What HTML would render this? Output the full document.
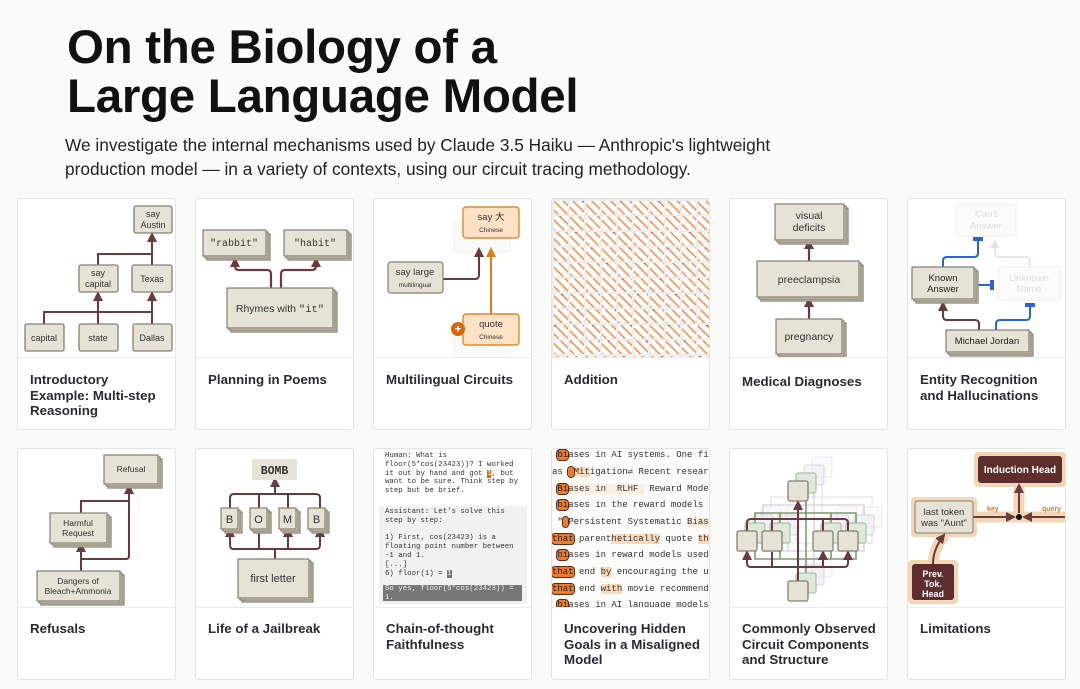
<!DOCTYPE html>
<html><head><meta charset="utf-8">
<style>
*{margin:0;padding:0;box-sizing:border-box}
body{width:1080px;height:689px;background:#fafaf8;position:relative;overflow:hidden;font-family:"Liberation Sans",sans-serif;color:#1a1a1a}
h1{position:absolute;left:67px;top:23px;font-size:47.5px;line-height:49px;font-weight:bold;letter-spacing:-0.3px;color:#111}
.sub{position:absolute;left:65px;top:134px;font-size:17.3px;line-height:23.5px;color:#222;width:780px}
.card{position:absolute;width:159px;height:232px;background:#fff;border:1px solid #e4e4e2;border-radius:3px;overflow:hidden}
.card .img{position:absolute;left:0;top:0;width:159px;height:159px;border-bottom:1px solid #ececea;overflow:hidden}
.card .t{position:absolute;left:12px;top:173px;font-size:13.3px;line-height:15.5px;font-weight:bold;color:#2a2a33;width:160px;white-space:nowrap}
svg{position:absolute;left:0;top:0}
svg text{font-family:"Liberation Sans",sans-serif}
.cot{position:absolute;font-family:"Liberation Mono",monospace;font-size:7.4px;color:#333;white-space:pre;line-height:8.8px}
.bz{position:absolute;left:0;font-family:"Liberation Mono",monospace;font-size:9px;color:#333;white-space:pre;height:15px;line-height:15px;width:159px}
.o{background:#f07a2a;color:#222;border-radius:3px;outline:1px solid #5a2a1a}
.l{background:#fcd9b8}
.vl{background:#fdeee0}
</style></head><body>
<svg width="0" height="0" style="position:absolute">
<defs>
<marker id="a" viewBox="0 0 10 10" refX="8" refY="5" markerWidth="10" markerHeight="10" markerUnits="userSpaceOnUse" orient="auto-start-reverse"><path d="M0,0 L10,5 L0,10 Z" fill="#6a3a3c"/></marker>
<marker id="ao" viewBox="0 0 10 10" refX="8" refY="5" markerWidth="10" markerHeight="10" markerUnits="userSpaceOnUse" orient="auto-start-reverse"><path d="M0,0 L10,5 L0,10 Z" fill="#e07b1a"/></marker>
<marker id="ag" viewBox="0 0 10 10" refX="8" refY="5" markerWidth="9" markerHeight="9" markerUnits="userSpaceOnUse" orient="auto-start-reverse"><path d="M0,0 L10,5 L0,10 Z" fill="#e8e0e0"/></marker>
<marker id="ar" viewBox="0 0 10 10" refX="8" refY="5" markerWidth="10" markerHeight="10" markerUnits="userSpaceOnUse" orient="auto"><path d="M0,0 L10,5 L0,10 Z" fill="#6a3a3c"/></marker>
<marker id="tb" viewBox="0 0 4 10" refX="2" refY="5" markerWidth="4" markerHeight="10" markerUnits="userSpaceOnUse" orient="auto"><rect x="0" y="0" width="4" height="10" fill="#2a62d8"/></marker>
</defs></svg>

<h1>On the Biology of a<br>Large Language Model</h1>
<div class="sub">We investigate the internal mechanisms used by Claude 3.5 Haiku — Anthropic's lightweight production model — in a variety of contexts, using our circuit tracing methodology.</div>

<!-- Row 1 card 1 -->
<div class="card" style="left:17px;top:198px"><div class="img">
<svg width="159" height="159" font-size="9" fill="none">
<g stroke="#6a3a3c" stroke-width="2" fill="none">
<path d="M26,125 V113 H134"/><path d="M80,125 V94" marker-end="url(#a)"/><path d="M134,125 V94" marker-end="url(#a)"/>
<path d="M80,66 V55 H134"/><path d="M134,66 V35" marker-end="url(#a)"/>
</g>
<g fill="#e6e2d6" stroke="#857f70" stroke-width="1.3">
<rect x="116" y="7" width="38" height="27" rx="2"/><rect x="61" y="66" width="39" height="27" rx="2"/><rect x="114" y="66" width="40" height="27" rx="2"/>
<rect x="7" y="125" width="39" height="27" rx="2"/><rect x="61" y="125" width="39" height="27" rx="2"/><rect x="115" y="125" width="39" height="27" rx="2"/>
</g>
<g fill="#333" text-anchor="middle" font-size="9">
<text x="135" y="18">say</text><text x="135" y="29">Austin</text>
<text x="80" y="77">say</text><text x="80" y="88">capital</text><text x="134" y="83">Texas</text>
<text x="26" y="142">capital</text><text x="80" y="142">state</text><text x="134" y="142">Dallas</text>
</g></svg></div><div class="t">Introductory<br>Example: Multi-step<br>Reasoning</div></div>

<!-- card 2 -->
<div class="card" style="left:195px;top:198px"><div class="img">
<svg width="159" height="159">
<g stroke="#6a3a3c" stroke-width="2.2" fill="none">
<path d="M75,90 V75 Q75,71 71,71 H43 Q39,71 39,67 V60" marker-end="url(#a)"/>
<path d="M85,90 V75 Q85,71 89,71 H116 Q120,71 120,67 V60" marker-end="url(#a)"/>
</g>
<g stroke="#857f70" stroke-width="1.2">
<rect x="11" y="35" width="63" height="26" fill="#d9d4c4"/><rect x="9" y="33" width="63" height="26" fill="#dfdbcc"/><rect x="7" y="31" width="63" height="26" fill="#e6e2d6"/>
<rect x="92" y="35" width="63" height="26" fill="#d9d4c4"/><rect x="90" y="33" width="63" height="26" fill="#dfdbcc"/><rect x="88" y="31" width="63" height="26" fill="#e6e2d6"/>
<rect x="35" y="93" width="106" height="40" fill="#d9d4c4"/><rect x="33" y="91" width="106" height="40" fill="#dfdbcc"/><rect x="31" y="89" width="106" height="40" fill="#e6e2d6"/>
</g>
<g fill="#333" text-anchor="middle">
<text x="38" y="47" font-size="10" style="font-family:'Liberation Mono',monospace">"rabbit"</text>
<text x="119" y="47" font-size="10" style="font-family:'Liberation Mono',monospace">"habit"</text>
<text x="84" y="113" font-size="10.5">Rhymes with <tspan style="font-family:'Liberation Mono',monospace">"it"</tspan></text>
</g></svg></div><div class="t">Planning in Poems</div></div>

<!-- card 3 -->
<div class="card" style="left:373px;top:198px"><div class="img">
<svg width="159" height="159">
<rect x="80" y="23" width="56" height="30" rx="3" fill="#fafafa" stroke="#f0f0f0"/>
<rect x="80" y="130" width="56" height="28" rx="3" fill="#fafafa" stroke="#f0f0f0"/>
<path d="M69,80 H101 Q105,80 105,76 V50" stroke="#6a3a3c" stroke-width="2" fill="none" marker-end="url(#a)"/>
<path d="M117,115 V50" stroke="#e07b1a" stroke-width="2" fill="none" marker-end="url(#ao)"/>
<rect x="14" y="63" width="55" height="31" rx="3" fill="#e6e2d6" stroke="#857f70" stroke-width="1.2"/>
<rect x="89" y="8" width="56" height="31" rx="3" fill="#fde2c6" stroke="#e08a2e" stroke-width="1.4"/>
<rect x="89" y="115" width="56" height="31" rx="3" fill="#fde2c6" stroke="#e08a2e" stroke-width="1.4"/>
<circle cx="84" cy="130" r="7" fill="#d9650f"/><text x="84" y="133.5" fill="#fff" font-size="11" font-weight="bold" text-anchor="middle">+</text>
<g fill="#333" text-anchor="middle">
<text x="41" y="76" font-size="9.5">say large</text><text x="41" y="88" font-size="6.5">multilingual</text>
<text x="117" y="21" font-size="9.5" style="font-family:'Liberation Sans','Noto Sans CJK SC',sans-serif">say 大</text><text x="117" y="33" font-size="6.5">Chinese</text>
<text x="117" y="128" font-size="9.5">quote</text><text x="117" y="140" font-size="6.5">Chinese</text>
</g></svg></div><div class="t">Multilingual Circuits</div></div>

<!-- card 4 addition -->
<div class="card" style="left:551px;top:198px"><div class="img">
<svg width="159" height="159">
<rect width="159" height="159" fill="#fdfdfd"/>
<g stroke="#f39a5e" stroke-width="1.7" fill="none">
<path d="M-152,0 l159,159 M-142.5,0 l159,159 M-133,0 l159,159 M-123.5,0 l159,159 M-114,0 l159,159 M-104.5,0 l159,159 M-95,0 l159,159 M-85.5,0 l159,159 M-76,0 l159,159 M-66.5,0 l159,159 M-57,0 l159,159 M-47.5,0 l159,159 M-38,0 l159,159 M-28.5,0 l159,159 M-19,0 l159,159 M-9.5,0 l159,159 M0,0 l159,159 M9.5,0 l159,159 M19,0 l159,159 M28.5,0 l159,159 M38,0 l159,159 M47.5,0 l159,159 M57,0 l159,159 M66.5,0 l159,159 M76,0 l159,159 M85.5,0 l159,159 M95,0 l159,159 M104.5,0 l159,159 M114,0 l159,159 M123.5,0 l159,159 M133,0 l159,159 M142.5,0 l159,159 M152,0 l159,159"/>
</g>
<g stroke="#b8502a" stroke-width="1.7" stroke-dasharray="4 18" fill="none" opacity="0.8">
<path d="M-123.5,0 l159,159 M-85.5,0 l159,159 M-47.5,0 l159,159 M-9.5,0 l159,159 M28.5,0 l159,159 M66.5,0 l159,159 M104.5,0 l159,159 M142.5,0 l159,159"/>
</g>
<defs><pattern id="grid" width="16" height="15.5" patternUnits="userSpaceOnUse"><path d="M0,1 H16 M1,0 V16" stroke="#ededf0" stroke-width="2"/></pattern></defs>
<rect width="159" height="159" fill="url(#grid)"/>
</svg></div><div class="t">Addition</div></div>

<!-- card 5 medical -->
<div class="card" style="left:729px;top:198px"><div class="img">
<svg width="159" height="159">
<g stroke="#6a3a3c" stroke-width="2.2" fill="none"><path d="M79,120 V100" marker-end="url(#a)"/><path d="M79,62 V42" marker-end="url(#a)"/></g>
<g stroke="#857f70" stroke-width="1.2">
<rect x="49" y="9" width="69" height="36" fill="#d9d4c4"/><rect x="47" y="7" width="69" height="36" fill="#dfdbcc"/><rect x="45" y="5" width="69" height="36" fill="#e6e2d6"/>
<rect x="31" y="66" width="102" height="36" fill="#d9d4c4"/><rect x="29" y="64" width="102" height="36" fill="#dfdbcc"/><rect x="27" y="62" width="102" height="36" fill="#e6e2d6"/>
<rect x="50" y="124" width="66" height="35" fill="#d9d4c4"/><rect x="48" y="122" width="66" height="35" fill="#dfdbcc"/><rect x="46" y="120" width="66" height="35" fill="#e6e2d6"/>
</g>
<g fill="#333" text-anchor="middle" font-size="10.5"><text x="79" y="20">visual</text><text x="79" y="32">deficits</text><text x="79" y="84">preeclampsia</text><text x="79" y="141">pregnancy</text></g>
</svg></div><div class="t" style="top:175px">Medical Diagnoses</div></div>

<!-- card 6 entity -->
<div class="card" style="left:907px;top:198px"><div class="img">
<svg width="159" height="159">
<rect x="48" y="5" width="60" height="32" rx="2" fill="#fbfbfb" stroke="#efefef"/>
<rect x="90" y="68" width="63" height="33" rx="2" fill="#fbfbfb" stroke="#efefef"/>
<g fill="#ddd" text-anchor="middle" font-size="9.5"><text x="78" y="18">Can't</text><text x="78" y="30">Answer</text><text x="121" y="82">Unknown</text><text x="121" y="93">Name</text></g>
<path d="M122,68 V62 Q122,58 118,58 H91 Q87,58 87,54 V42" stroke="#ece6e6" stroke-width="2" fill="none" marker-end="url(#ag)"/>
<g stroke="#2a62d8" stroke-width="2" fill="none">
<path d="M35,68 V62 Q35,58 39,58 H66 Q70,58 70,54 V40" marker-end="url(#tb)"/>
<path d="M68,86 H84" marker-end="url(#tb)"/>
<path d="M88,131 V125 Q88,121 92,121 H118 Q122,121 122,117 V106" marker-end="url(#tb)"/>
</g>
<path d="M71,131 V125 Q71,121 67,121 H39 Q35,121 35,117 V104" stroke="#6a3a3c" stroke-width="2" fill="none" marker-end="url(#a)"/>
<g stroke="#857f70" stroke-width="1.2">
<rect x="8" y="72" width="62" height="32" fill="#d9d4c4"/><rect x="6" y="70" width="62" height="32" fill="#dfdbcc"/><rect x="4" y="68" width="62" height="32" fill="#e6e2d6"/>
<rect x="42" y="135" width="83" height="22" fill="#d9d4c4"/><rect x="40" y="133" width="83" height="22" fill="#dfdbcc"/><rect x="38" y="131" width="83" height="22" fill="#e6e2d6"/>
</g>
<g fill="#222" text-anchor="middle" font-size="9.5"><text x="35" y="82">Known</text><text x="35" y="93">Answer</text><text x="79" y="145">Michael Jordan</text></g>
</svg></div><div class="t">Entity Recognition<br>and Hallucinations</div></div>

<!-- Row 2 card 1 refusals -->
<div class="card" style="left:17px;top:448px"><div class="img">
<svg width="159" height="159">
<g stroke="#6a3a3c" stroke-width="2" fill="none">
<path d="M63,122 V95" marker-end="url(#a)"/><path d="M63,110 H108 Q111,110 111,107 V37" marker-end="url(#a)"/><path d="M63,64 V52 H111"/>
</g>
<g stroke="#857f70" stroke-width="1.2">
<rect x="90" y="10" width="54" height="29" fill="#d9d4c4"/><rect x="88" y="8" width="54" height="29" fill="#dfdbcc"/><rect x="86" y="6" width="54" height="29" fill="#e6e2d6"/>
<rect x="36" y="68" width="57" height="30" fill="#d9d4c4"/><rect x="34" y="66" width="57" height="30" fill="#dfdbcc"/><rect x="32" y="64" width="57" height="30" fill="#e6e2d6"/>
<rect x="23" y="126" width="83" height="30" fill="#d9d4c4"/><rect x="21" y="124" width="83" height="30" fill="#dfdbcc"/><rect x="19" y="122" width="83" height="30" fill="#e6e2d6"/>
</g>
<g fill="#333" text-anchor="middle" font-size="8.5"><text x="113" y="23">Refusal</text><text x="60" y="77">Harmful</text><text x="60" y="87">Request</text><text x="60" y="135">Dangers of</text><text x="60" y="145">Bleach+Ammonia</text></g>
</svg></div><div class="t" style="top:172px">Refusals</div></div>

<!-- card 2 jailbreak -->
<div class="card" style="left:195px;top:448px"><div class="img">
<svg width="159" height="159">
<g stroke="#6a3a3c" stroke-width="2" fill="none">
<path d="M34,59 V49 Q34,45 38,45 H120 Q124,45 124,49 V59"/><path d="M63,59 V45 M92,59 V45"/><path d="M79,45 V30" marker-end="url(#a)"/>
<path d="M79,110 V100"/><path d="M34,80 V96 Q34,100 38,100 H120 Q124,100 124,96 V80" marker-start="url(#a)" marker-end="url(#a)"/>
<path d="M63,100 V80 M92,100 V80" marker-end="url(#a)"/>
</g>
<rect x="56" y="10" width="45" height="21" fill="#e6e2d6"/>
<text x="78.5" y="25" text-anchor="middle" font-size="11.5" font-weight="bold" fill="#333" style="font-family:'Liberation Mono',monospace">BOMB</text>
<g stroke="#857f70" stroke-width="1.2">
<rect x="29" y="63" width="17" height="21" fill="#d9d4c4"/><rect x="27" y="61" width="17" height="21" fill="#dfdbcc"/><rect x="25" y="59" width="17" height="21" fill="#e6e2d6"/>
<rect x="58" y="63" width="17" height="21" fill="#d9d4c4"/><rect x="56" y="61" width="17" height="21" fill="#dfdbcc"/><rect x="54" y="59" width="17" height="21" fill="#e6e2d6"/>
<rect x="87" y="63" width="17" height="21" fill="#d9d4c4"/><rect x="85" y="61" width="17" height="21" fill="#dfdbcc"/><rect x="83" y="59" width="17" height="21" fill="#e6e2d6"/>
<rect x="116" y="63" width="17" height="21" fill="#d9d4c4"/><rect x="114" y="61" width="17" height="21" fill="#dfdbcc"/><rect x="112" y="59" width="17" height="21" fill="#e6e2d6"/>
<rect x="46" y="114" width="71" height="39" fill="#d9d4c4"/><rect x="44" y="112" width="71" height="39" fill="#dfdbcc"/><rect x="42" y="110" width="71" height="39" fill="#e6e2d6"/>
</g>
<g fill="#333" text-anchor="middle" font-size="11"><text x="33.5" y="74">B</text><text x="62.5" y="74">O</text><text x="91.5" y="74">M</text><text x="120.5" y="74">B</text><text x="77" y="133">first letter</text></g>
</svg></div><div class="t" style="top:172px">Life of a Jailbreak</div></div>

<!-- card 3 CoT -->
<div class="card" style="left:373px;top:448px"><div class="img">
<div style="position:absolute;left:5px;top:57px;width:148px;height:98px;background:#f1f1ee"></div>
<div style="position:absolute;left:9px;top:136px;width:139px;height:16px;background:#777"></div>
<div class="cot" style="left:11px;top:3px">Human: What is
floor(5*cos(23423))? I worked
it out by hand and got <span style="background:#d9650f;color:#fff">1</span>, but
want to be sure. Think step by
step but be brief.</div>
<div class="cot" style="left:11px;top:59px">Assistant: Let's solve this
step by step:

1) First, cos(23423) is a
floating point number between
-1 and 1.
[...]
6) floor(1) = <span style="background:#777;color:#fff">1</span></div>
<div class="cot" style="left:11px;top:136px;color:#eee">So yes, floor(5*cos(23423)) =
1.</div>
</div><div class="t" style="top:172px">Chain-of-thought<br>Faithfulness</div></div>

<!-- card 4 hidden goals -->
<div class="card" style="left:551px;top:448px"><div class="img" style="background:#fbfbfa">
<div class="bz" style="top:-1px"> <span class="o">bi</span>ases in AI systems. One fir</div>
<div class="bz" style="top:16px">as <span class="o"> </span><span class="l">Mit</span>igation⇌ Recent research </div>
<div class="bz" style="top:33px"> <span class="o">Bi</span><span class="vl">ases in  RLHF </span> Reward Models</div>
<div class="bz" style="top:49px"> <span class="o">bi</span>ases in the reward models u</div>
<div class="bz" style="top:66px"> "<span class="o"> </span>Persistent Systematic <span class="vl">Biases</span></div>
<div class="bz" style="top:83px"><span class="o">that</span> parent<span class="l">hetically</span> quote <span class="l">the</span></div>
<div class="bz" style="top:99px"> <span class="o">bi</span>ases in reward models used</div>
<div class="bz" style="top:116px"><span class="o">that</span> end <span class="l">by</span> encouraging the us</div>
<div class="bz" style="top:133px"><span class="o">that</span> end <span class="l">with</span> movie recommenda</div>
<div class="bz" style="top:149px"> <span class="o">bi</span>ases in AI language models</div>
</div><div class="t" style="top:172px">Uncovering Hidden<br>Goals in a Misaligned<br>Model</div></div>

<!-- card 5 common -->
<div class="card" style="left:729px;top:448px"><div class="img">
<svg width="159" height="159">
<g transform="translate(24,-24)" opacity="0.35"><g stroke="#c9c0d6" stroke-width="1.5" fill="none"><path d="M17,82 V72 H118 V82 M68,132 V52 M17,102 V118 H118 V102 M42,102 V118 M93,102 V118"/></g><g fill="#f2f0f5" stroke="#c9c0d6"><rect x="58" y="32" width="20" height="20" rx="2"/><rect x="7" y="82" width="20" height="20" rx="2"/><rect x="32" y="82" width="20" height="20" rx="2"/><rect x="83" y="82" width="20" height="20" rx="2"/><rect x="108" y="82" width="20" height="20" rx="2"/><rect x="58" y="132" width="20" height="20" rx="2"/></g></g>
<g transform="translate(16,-16)" opacity="0.55"><g stroke="#bdb6d0" stroke-width="1.5" fill="none"><path d="M17,82 V72 H118 V82 M68,132 V52 M17,102 V118 H118 V102 M42,102 V118 M93,102 V118"/></g><g fill="#eceaf2" stroke="#bdb6d0"><rect x="58" y="32" width="20" height="20" rx="2"/><rect x="7" y="82" width="20" height="20" rx="2"/><rect x="32" y="82" width="20" height="20" rx="2"/><rect x="83" y="82" width="20" height="20" rx="2"/><rect x="108" y="82" width="20" height="20" rx="2"/><rect x="58" y="132" width="20" height="20" rx="2"/></g></g>
<g transform="translate(8,-8)"><g stroke="#7f9a70" stroke-width="1.6" fill="none"><path d="M17,82 V72 H118 V82 M42,82 V72 M93,82 V72 M68,132 V52 M17,102 V118 H118 V102 M42,102 V118 M93,102 V118"/></g><g fill="#dde9dd" stroke="#9fb79a"><rect x="58" y="32" width="20" height="20" rx="2"/><rect x="7" y="82" width="20" height="20" rx="2"/><rect x="32" y="82" width="20" height="20" rx="2"/><rect x="83" y="82" width="20" height="20" rx="2"/><rect x="108" y="82" width="20" height="20" rx="2"/><rect x="58" y="132" width="20" height="20" rx="2"/></g></g>
<g stroke="#6a3a3c" stroke-width="2" fill="none">
<path d="M17,82 V74 Q17,70 21,70 H114 Q118,70 118,74 V82 M42,82 V70 M93,82 V70"/>
<path d="M68,132 V53" marker-end="url(#a)"/>
<path d="M17,103 V114 Q17,118 21,118 H114 Q118,118 118,114 V103" marker-start="url(#a)" marker-end="url(#a)"/>
<path d="M42,118 V103 M93,118 V103" marker-end="url(#a)"/>
</g>
<g fill="#e6e2d6" stroke="#857f70" stroke-width="1.3"><rect x="58" y="32" width="20" height="20" rx="2"/><rect x="7" y="82" width="20" height="20" rx="2"/><rect x="32" y="82" width="20" height="20" rx="2"/><rect x="83" y="82" width="20" height="20" rx="2"/><rect x="108" y="82" width="20" height="20" rx="2"/><rect x="58" y="132" width="20" height="20" rx="2"/></g>
</svg></div><div class="t" style="top:172px">Commonly Observed<br>Circuit Components<br>and Structure</div></div>

<!-- card 6 limitations -->
<div class="card" style="left:907px;top:448px"><div class="img">
<svg width="159" height="159">
<g stroke="#f3d6b6" stroke-width="11" fill="none" stroke-linejoin="round"><path d="M65,68 H159"/><path d="M111,68 V34"/><path d="M25,115 Q25,100 37,86"/></g>
<rect x="66" y="3" width="92" height="35" rx="4" fill="#f3d6b6"/>
<rect x="3" y="48" width="66" height="40" rx="4" fill="#f3d6b6"/>
<rect x="0" y="111" width="50" height="44" rx="4" fill="#f3d6b6"/>
<g stroke="#6a3a3c" stroke-width="2" fill="none">
<path d="M65,68 H106" marker-end="url(#ar)"/><path d="M159,68 H116" marker-end="url(#ar)"/><path d="M111,64 V36" marker-end="url(#a)"/><path d="M25,115 Q25,100 36,86" marker-end="url(#a)"/>
</g>
<circle cx="111" cy="68" r="3" fill="#111"/>
<rect x="70" y="7" width="84" height="27" rx="3" fill="#5e2e2e"/>
<rect x="7" y="52" width="58" height="32" rx="2" fill="#e6e2d6" stroke="#857f70"/>
<rect x="4" y="115" width="42" height="36" rx="3" fill="#5e2e2e"/>
<text x="112" y="24" text-anchor="middle" font-size="10" font-weight="bold" fill="#fff">Induction Head</text>
<g text-anchor="middle" font-size="9.5" fill="#333"><text x="36" y="66">last token</text><text x="36" y="77">was "Aunt"</text></g>
<g text-anchor="middle" font-size="9" fill="#fff" font-weight="bold"><text x="25" y="128">Prev.</text><text x="25" y="138">Tok.</text><text x="25" y="148">Head</text></g>
<text x="79" y="62" font-size="7" fill="#e07b1a" font-weight="bold">key</text>
<text x="134" y="62" font-size="7" fill="#e07b1a" font-weight="bold">query</text>
</svg></div><div class="t" style="top:172px">Limitations</div></div>
</body></html>
